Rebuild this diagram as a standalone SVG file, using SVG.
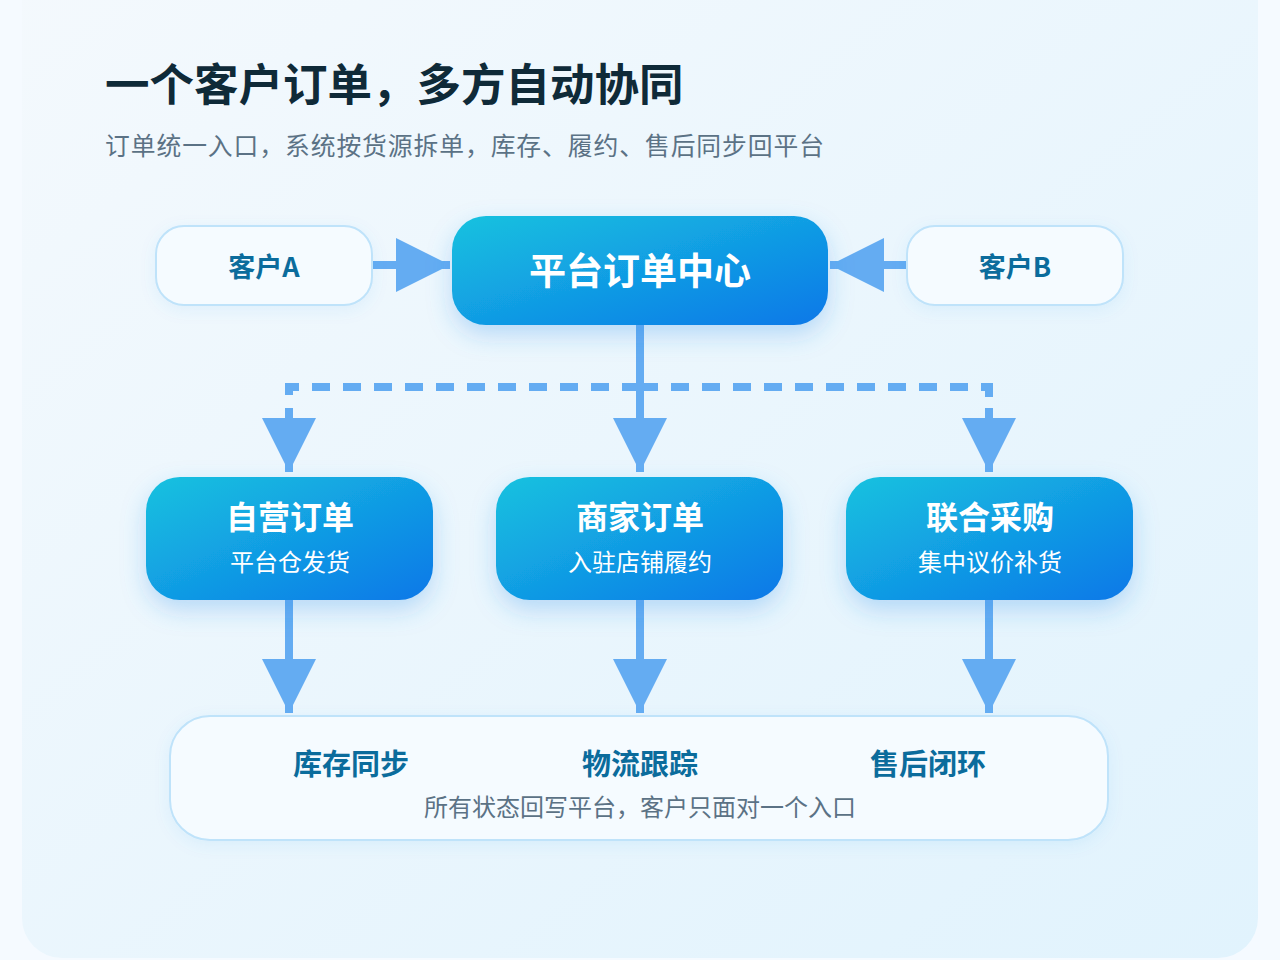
<svg xmlns="http://www.w3.org/2000/svg" width="1280" height="960" viewBox="0 0 1280 960">
<defs>
<linearGradient id="card" x1="0" y1="0" x2="1" y2="1">
<stop offset="0" stop-color="#f4f9fd"/>
<stop offset="1" stop-color="#e1f3fd"/>
</linearGradient>
<linearGradient id="blue" x1="0" y1="0" x2="1" y2="1">
<stop offset="0" stop-color="#17c2df"/>
<stop offset="1" stop-color="#0b78e8"/>
</linearGradient>
<filter id="sh" x="-20%" y="-20%" width="140%" height="160%">
<feDropShadow dx="0" dy="10" stdDeviation="12" flood-color="#2a8de8" flood-opacity="0.28"/>
</filter>
<filter id="sh2" x="-20%" y="-20%" width="140%" height="160%">
<feDropShadow dx="0" dy="4" stdDeviation="8" flood-color="#2a8de8" flood-opacity="0.08"/>
</filter>
<marker id="ah" viewBox="0 0 54 54" refX="54" refY="27" markerWidth="54" markerHeight="54" markerUnits="userSpaceOnUse" orient="auto">
<path d="M0,0 L54,27 L0,54 Z" fill="#64acf2"/>
</marker>
<style>
.light{fill:#f5fbff;stroke:#bfe3fa;stroke-width:2}
.blue{fill:url(#blue)}
.lt{font-family:"Noto Sans CJK SC","Noto Sans",sans-serif;font-weight:700;fill:#0b6c9c;text-anchor:middle}
.wt{font-family:"Noto Sans CJK SC","Noto Sans",sans-serif;font-weight:700;fill:#ffffff;text-anchor:middle}
.ws{font-family:"Noto Sans CJK SC","Noto Sans",sans-serif;font-weight:400;fill:#ffffff;text-anchor:middle}
.gs{font-family:"Noto Sans CJK SC","Noto Sans",sans-serif;font-weight:400;fill:#5b7285}
.ln{stroke:#64acf2;stroke-width:8;fill:none}
.dash{stroke:#64acf2;stroke-width:8;fill:none;stroke-dasharray:18 13}
</style>
</defs>
<rect x="0" y="0" width="1280" height="960" fill="#f5faff"/>
<rect x="22" y="-40" width="1236" height="998" rx="40" fill="url(#card)"/>

<g id="title">
<text x="105" y="101" font-family="'Noto Sans CJK SC',sans-serif" font-weight="700" font-size="44.5" fill="#0f2a38">一个客户订单，多方自动协同</text>
<text x="105" y="155" class="gs" font-size="24.8" textLength="719" lengthAdjust="spacing">订单统一入口，系统按货源拆单，库存、履约、售后同步回平台</text>
</g>

<g id="connectors">
<line x1="372" y1="265" x2="450" y2="265" class="ln" marker-end="url(#ah)"/>
<line x1="907" y1="265" x2="830" y2="265" class="ln" marker-end="url(#ah)"/>
<line x1="640" y1="325" x2="640" y2="472" class="ln" marker-end="url(#ah)"/>
<path d="M640,387 H289 V408" class="dash"/>
<line x1="289" y1="408" x2="289" y2="472" class="ln" marker-end="url(#ah)"/>
<path d="M640,387 H989 V408" class="dash"/>
<line x1="989" y1="408" x2="989" y2="472" class="ln" marker-end="url(#ah)"/>
<line x1="289" y1="600" x2="289" y2="713" class="ln" marker-end="url(#ah)"/>
<line x1="640" y1="600" x2="640" y2="713" class="ln" marker-end="url(#ah)"/>
<line x1="989" y1="600" x2="989" y2="713" class="ln" marker-end="url(#ah)"/>
</g>

<g id="custA">
<rect x="156" y="226" width="216" height="79" rx="28" class="light" filter="url(#sh2)"/>
<text x="264" y="277" class="lt" font-size="27">客户A</text>
</g>
<g id="custB">
<rect x="907" y="226" width="216" height="79" rx="28" class="light" filter="url(#sh2)"/>
<text x="1015" y="277" class="lt" font-size="27">客户B</text>
</g>
<g id="platform">
<rect x="452" y="216" width="376" height="109" rx="34" class="blue" filter="url(#sh)"/>
<text x="640" y="285" class="wt" font-size="37">平台订单中心</text>
</g>

<g id="self">
<rect x="146" y="477" width="287" height="123" rx="34" class="blue" filter="url(#sh)"/>
<text x="290" y="529" class="wt" font-size="32">自营订单</text>
<text x="290" y="571" class="ws" font-size="24">平台仓发货</text>
</g>
<g id="merchant">
<rect x="496" y="477" width="287" height="123" rx="34" class="blue" filter="url(#sh)"/>
<text x="640" y="529" class="wt" font-size="32">商家订单</text>
<text x="640" y="571" class="ws" font-size="24">入驻店铺履约</text>
</g>
<g id="joint">
<rect x="846" y="477" width="287" height="123" rx="34" class="blue" filter="url(#sh)"/>
<text x="990" y="529" class="wt" font-size="32">联合采购</text>
<text x="990" y="571" class="ws" font-size="24">集中议价补货</text>
</g>

<g id="bottom">
<rect x="170" y="716" width="938" height="124" rx="40" class="light" filter="url(#sh2)"/>
<text x="351" y="775" class="lt" font-size="29">库存同步</text>
<text x="640" y="775" class="lt" font-size="29">物流跟踪</text>
<text x="928" y="775" class="lt" font-size="29">售后闭环</text>
<text x="640" y="816" class="gs" font-size="24" text-anchor="middle">所有状态回写平台，客户只面对一个入口</text>
</g>
</svg>
